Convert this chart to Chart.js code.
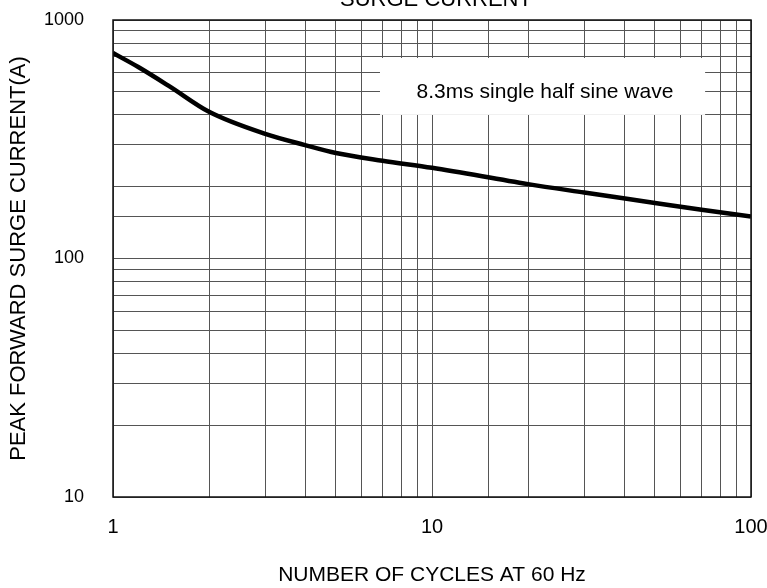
<!DOCTYPE html>
<html lang="en">
<head>
  <meta charset="UTF-8">
  <title>Surge Current</title>
  <style>
    body {
      margin: 0;
      padding: 0;
      background: #fff;
    }
    #surgeChart {
      display: block;
    }
  </style>
</head>
<body>

<canvas id="surgeChart" width="767" height="588"></canvas>

<script src="https://cdn.jsdelivr.net/npm/chart.js"></script>

<script>
  // Values
  var cycles = [1, 1.2, 1.5, 2, 3, 4, 5, 7, 10, 20, 30, 50, 70, 100];
  var surgeCurrent = [727, 635, 528, 412, 333, 299, 277, 257, 240, 205, 189, 171, 160, 150];

  var xTickLabels = ['1', '10', '100'];
  var yTickLabels = ['10', '100', '1000'];

  var chartTitle = 'SURGE CURRENT';
  var xTitle = 'NUMBER OF CYCLES AT 60 Hz';
  var yTitle = 'PEAK FORWARD SURGE CURRENT(A)';

  // Note box, in data units: x from/to, y from/to, text anchor
  var noteText = '8.3ms single half sine wave';
  var noteBoxX = [6.87, 71.8];
  var noteBoxY = [400, 693];
  var noteAt = [22.6, 499];

  var fontFamily = "Arial, 'Liberation Sans', sans-serif";

  // White box with the note, drawn over the grid
  var notePlugin = {
    id: 'noteBox',
    beforeDatasetsDraw: function(chart) {
      var ctx = chart.ctx;
      var x = chart.scales.x;
      var y = chart.scales.y;
      var l = x.getPixelForValue(noteBoxX[0]);
      var r = x.getPixelForValue(noteBoxX[1]);
      var t = y.getPixelForValue(noteBoxY[1]);
      var b = y.getPixelForValue(noteBoxY[0]);
      ctx.save();
      ctx.fillStyle = '#fff';
      ctx.fillRect(l, t, r - l, b - t);
      ctx.fillStyle = '#000';
      ctx.font = '21px ' + fontFamily;
      ctx.textAlign = 'center';
      ctx.textBaseline = 'middle';
      ctx.fillText(noteText, x.getPixelForValue(noteAt[0]), y.getPixelForValue(noteAt[1]));
      ctx.restore();
    },
    afterDraw: function(chart) {
      var ctx = chart.ctx;
      var a = chart.chartArea;
      ctx.save();
      // plot frame
      ctx.strokeStyle = '#111';
      ctx.lineWidth = 1.5;
      ctx.strokeRect(a.left, a.top, a.right - a.left, a.bottom - a.top);
      // title, cut off at the top edge as in the original
      ctx.fillStyle = '#000';
      ctx.font = '22px ' + fontFamily;
      ctx.textAlign = 'center';
      ctx.textBaseline = 'alphabetic';
      ctx.fillText(chartTitle, (a.left + a.right) / 2 + 4, 5.5);
      ctx.restore();
    }
  };

  function decadeLabel(labels) {
    return function(value) {
      var s = String(Number(value));
      return labels.indexOf(s) >= 0 ? s : '';
    };
  }

  var ctx = document.getElementById('surgeChart').getContext('2d');
  var chart = new Chart(ctx, {
    type: 'line',
    data: {
      labels: cycles,
      datasets: [{
        data: cycles.map(function(c, i) { return { x: c, y: surgeCurrent[i] }; }),
        borderColor: '#000',
        borderWidth: 4.5,
        pointRadius: 0,
        fill: false,
        cubicInterpolationMode: 'monotone'
      }]
    },
    options: {
      responsive: false,
      animation: false,
      layout: {
        padding: { top: 20, right: 16, left: 0, bottom: 0 }
      },
      plugins: {
        legend: { display: false },
        tooltip: { enabled: false }
      },
      scales: {
        x: {
          type: 'logarithmic',
          min: 1,
          max: 100,
          afterFit: function(scale) {
            scale.height = 91;
            scale.paddingLeft = 0;
            scale.paddingRight = 0;
          },
          grid: { color: '#555', lineWidth: 1, drawTicks: false },
          border: { display: false },
          ticks: {
            autoSkip: false,
            maxRotation: 0,
            padding: 18,
            color: '#000',
            font: { family: fontFamily, size: 20 },
            callback: decadeLabel(xTickLabels)
          },
          title: {
            display: true,
            text: xTitle,
            color: '#000',
            font: { family: fontFamily, size: 21 },
            padding: { top: 0, bottom: 0 }
          }
        },
        y: {
          type: 'logarithmic',
          min: 10,
          max: 1000,
          afterFit: function(scale) {
            scale.width = 113;
            scale.paddingTop = 0;
            scale.paddingBottom = 0;
          },
          grid: { color: '#555', lineWidth: 1, drawTicks: false },
          border: { display: false },
          ticks: {
            autoSkip: false,
            padding: 29,
            color: '#000',
            font: { family: fontFamily, size: 18 },
            callback: decadeLabel(yTickLabels)
          },
          title: {
            display: true,
            text: yTitle,
            color: '#000',
            font: { family: fontFamily, size: 22 },
            padding: { top: 6, bottom: 0 }
          }
        }
      }
    },
    plugins: [notePlugin]
  });
</script>

</body>
</html>
